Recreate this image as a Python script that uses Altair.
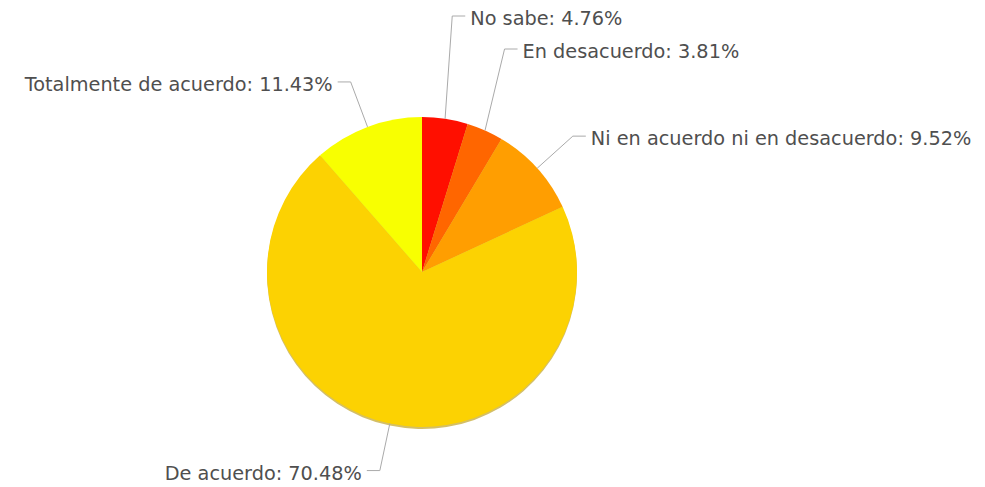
import math
import altair as alt
import pandas as pd

# ---- data ----
categories = ["No sabe", "En desacuerdo", "Ni en acuerdo ni en desacuerdo",
              "De acuerdo", "Totalmente de acuerdo"]
percentages = [4.76, 3.81, 9.52, 70.48, 11.43]
colors = ["#FF0F00", "#FF6600", "#FF9E01", "#FCD202", "#F8FF01"]

# ---- layout ----
W, H = 969, 479
CX, CY = 414, 264          # pie centre (plot coordinates)
R = 155                    # pie radius
R_LABEL = 203              # radius of the leader-line elbow
TICK = 13                  # horizontal part of the leader line
TEXT_GAP = 5
TEXT_DY = 3                # text centre sits a little below the leader line
MIN_SEP = 33               # minimum vertical gap between labels in one column
TOP_Y = 8                  # highest leader-line position
FONT = "DejaVu Sans"
FONT_SIZE = 19.3

total = sum(percentages)
rows = []
cum = 0.0
for i, (c, p) in enumerate(zip(categories, percentages)):
    mid = (cum + p / 2) / total * 2 * math.pi
    cum += p
    sx, sy = CX + R * math.sin(mid), CY - R * math.cos(mid)
    ex, ey = CX + R_LABEL * math.sin(mid), CY - R_LABEL * math.cos(mid)
    side = "right" if math.sin(mid) >= 0 else "left"
    rows.append(dict(idx=i, cat=c, pct=p, label=f"{c}: {p:.2f}%",
                     sx=sx, sy=sy, ex=ex, ey=ey, side=side))

# overlap avoidance: a crowded group of upper labels is packed against the top edge
for side in ("right", "left"):
    col = sorted([r for r in rows if r["side"] == side and r["ey"] < CY], key=lambda r: r["ey"])
    groups, cur = [], []
    for r in col:
        if cur and r["ey"] - cur[-1]["ey"] >= MIN_SEP:
            groups.append(cur)
            cur = []
        cur.append(r)
    if cur:
        groups.append(cur)
    if groups and len(groups[0]) > 1:
        for k, r in enumerate(groups[0]):
            r["ey"] = TOP_Y + k * MIN_SEP

for r in rows:
    d = 1 if r["side"] == "right" else -1
    r["hx"] = r["ex"] + d * TICK
    r["tx"] = r["hx"] + d * TEXT_GAP
    r["ty"] = r["ey"] + TEXT_DY

df = pd.DataFrame(rows)

seg = pd.concat([
    pd.DataFrame({"x": df.sx, "y": df.sy, "x2": df.ex, "y2": df.ey}),
    pd.DataFrame({"x": df.ex, "y": df.ey, "x2": df.hx, "y2": df.ey}),
])

color_scale = alt.Scale(domain=categories, range=colors)

shadow = alt.Chart(df).mark_arc(outerRadius=R, color="#B89400", opacity=0.6).encode(
    theta=alt.Theta("pct:Q", stack=True),
    order=alt.Order("idx:Q"),
    x=alt.value(CX), y=alt.value(CY + 2),
)

pie = alt.Chart(df).mark_arc(outerRadius=R).encode(
    theta=alt.Theta("pct:Q", stack=True),
    color=alt.Color("cat:N", scale=color_scale, legend=None),
    order=alt.Order("idx:Q"),
    x=alt.value(CX), y=alt.value(CY),
)

lines = alt.Chart(seg).mark_rule(color="#AAAAAA", strokeWidth=1).encode(
    x=alt.X("x:Q", scale=None, axis=None),
    y=alt.Y("y:Q", scale=None, axis=None),
    x2="x2:Q", y2="y2:Q",
)

def text_layer(side, align):
    return alt.Chart(df).transform_filter(alt.datum.side == side).mark_text(
        align=align, baseline="middle", font=FONT, fontSize=FONT_SIZE, color="#4F4F4F"
    ).encode(
        x=alt.X("tx:Q", scale=None, axis=None),
        y=alt.Y("ty:Q", scale=None, axis=None),
        text="label:N",
    )

chart = alt.layer(shadow, pie, lines, text_layer("right", "left"), text_layer("left", "right")).properties(
    width=W, height=H, padding=0, autosize="none"
).configure_view(stroke=None)

chart.save("out.html", embed_options={"renderer": "svg", "actions": False})
